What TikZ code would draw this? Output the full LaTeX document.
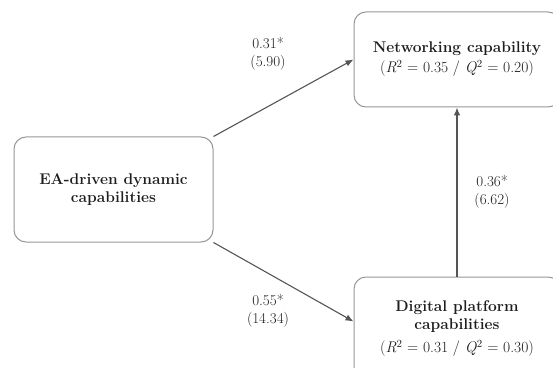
\documentclass[tikz,border=0pt]{standalone}
\usepackage{xcolor}
\usepackage{tikz}
\usetikzlibrary{positioning, arrows.meta, calc}
\definecolor{BoxGray}{RGB}{150,150,150}
\definecolor{ArrowGray}{RGB}{85,85,85}
\definecolor{TextBlack}{RGB}{30,30,30}
\newcommand{\fitsq}[2]{\textit{#1}\textsuperscript{2} = #2}

\begin{document}
\begin{tikzpicture}[x=1pt, y=1pt,
    construct/.style={draw=BoxGray, line width=1pt, rounded corners=12pt,
                      align=center, inner sep=0pt, text=TextBlack,
                      font=\fontsize{15.5}{18}\selectfont},
    path/.style={draw=ArrowGray, line width=1.1pt,
                 -{Latex[length=8pt, width=6.5pt]}},
    coef/.style={align=center, text=TextBlack,
                 font=\fontsize{15}{18.5}\selectfont}]
  \useasboundingbox (0,0) rectangle (553,367);
  \clip (0,0) rectangle (553,367);

  % constructs
  \node[construct, minimum width=199pt, minimum height=105pt] (ea)
        at (113.5,177.5)
        {\textbf{EA-driven dynamic}\\ \textbf{capabilities}};
  \node[construct, minimum width=206pt, minimum height=95pt] (net)
        at (457,307.5)
        {\textbf{Networking capability}\\[2pt]
         (\fitsq{R}{0.35} / \fitsq{Q}{0.20})};
  \node[construct, minimum width=206pt, minimum height=103pt] (dig)
        at (457,38.5)
        {\textbf{Digital platform}\\ \textbf{capabilities}\\[5pt]
         (\fitsq{R}{0.31} / \fitsq{Q}{0.30})};

  % structural paths
  \draw[path] (ea.north east) -- (net.west);
  \draw[path] (ea.south east) -- ([yshift=7pt]dig.west);
  \draw[path] (dig.north) -- (net.south);

  % path coefficients (t-values)
  \node[coef] (c1) at (268,313) {0.31*\\(5.90)};
  \node[coef] (c2) at (268,56)  {0.55*\\(14.34)};
  \node[coef] (c3) at (492,175) {0.36*\\(6.62)};
\end{tikzpicture}
\end{document}
